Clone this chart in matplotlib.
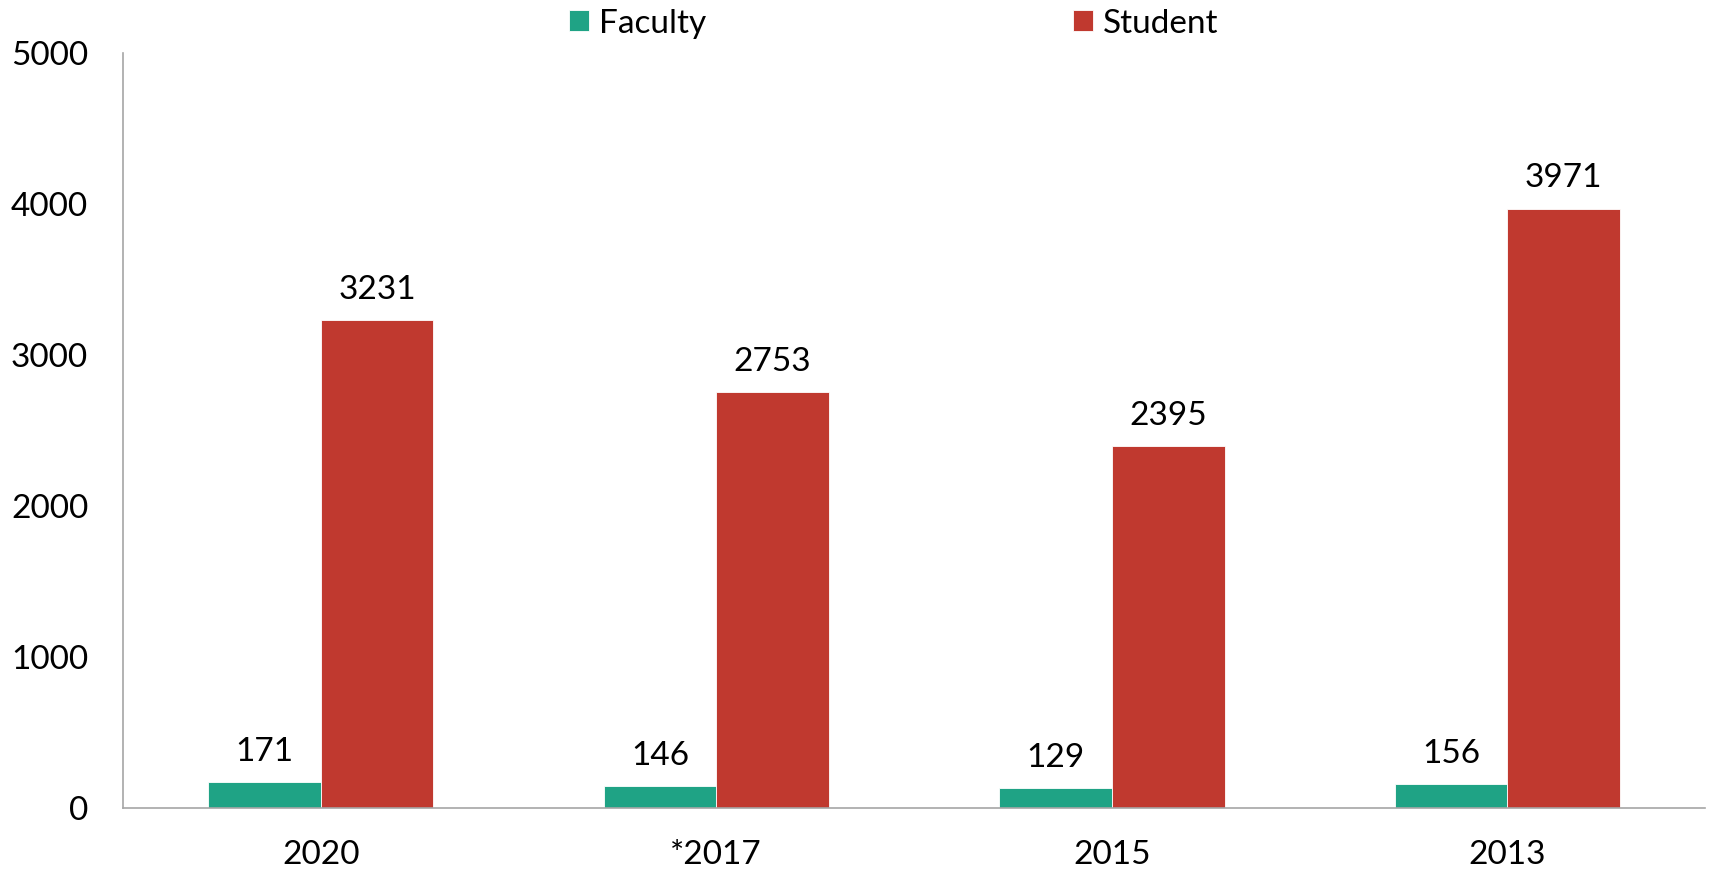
import numpy as np
import matplotlib.pyplot as plt

# donnees
years = ["2020", "*2017", "2015", "2013"]
faculty = [171, 146, 129, 156]
student = [3231, 2753, 2395, 3971]

plt.rcParams['font.family'] = ['Lato', 'DejaVu Sans']

fig = plt.figure(figsize=(17.12, 8.73), dpi=100)
ax = fig.add_axes([0.0718, 0.0745, 0.9242, 0.8645])

x = np.arange(len(years)) + 0.5
w = 0.285
teal = '#1fa385'
red = '#c0392f'

b1 = ax.bar(x - w / 2, faculty, w, color=teal, edgecolor='white', linewidth=0.6, label='Faculty')
b2 = ax.bar(x + w / 2, student, w, color=red, edgecolor='white', linewidth=0.6, label='Student')

for bars, vals in [(b1, faculty), (b2, student)]:
    for r, v in zip(bars, vals):
        ax.annotate(str(v), (r.get_x() + r.get_width() / 2, r.get_height()),
                    xytext=(0, 11), textcoords='offset points',
                    ha='center', va='bottom', fontsize=24)

ax.set_xlim(0, 4)
ax.set_ylim(0, 5000)
ax.set_xticks(x)
ax.set_xticklabels(years)
ax.set_yticks([0, 1000, 2000, 3000, 4000, 5000])
ax.tick_params(axis='x', length=0, pad=23, labelsize=24)
ax.tick_params(axis='y', length=0, pad=25, labelsize=24)

for s in ['top', 'right']:
    ax.spines[s].set_visible(False)
for s in ['left', 'bottom']:
    ax.spines[s].set_color('#a6a6a6')
    ax.spines[s].set_linewidth(1.2)

fig.legend(loc='center', bbox_to_anchor=(0.522, 0.973), ncol=2, frameon=False,
           fontsize=24, handlelength=0.6, handleheight=0.6, handletextpad=0.3,
           columnspacing=11.0)

plt.savefig('out.png', dpi=100)
